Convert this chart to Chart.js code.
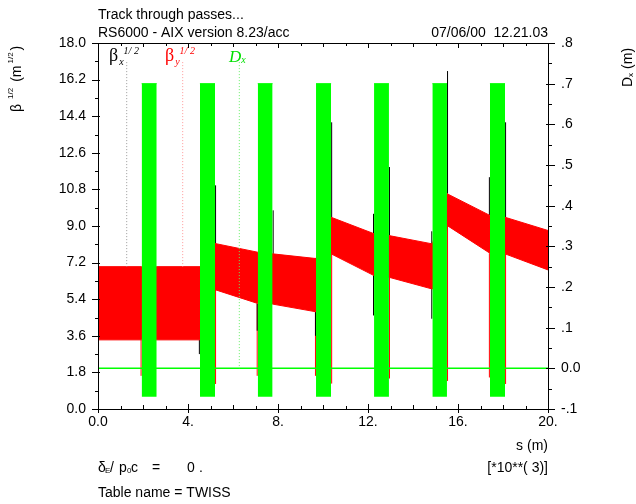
<!DOCTYPE html>
<html>
<head>
<meta charset="utf-8">
<title>Track through passes...</title>
<script src="https://cdn.jsdelivr.net/npm/chart.js@4.4.0/dist/chart.umd.min.js"></script>
<style>
  body { margin: 0; background: #fff; }
  #wrap { position: relative; width: 636px; height: 504px; }
</style>
</head>
<body>
<div id="wrap"><canvas id="twiss"></canvas></div>
<script>
const SANS = "'Liberation Sans', Arial, Helvetica, sans-serif";
const SERIF = "'Liberation Serif', 'Times New Roman', serif";

// axis ticks
const xTicks = [0, 4, 8, 12, 16, 20];
const xTickLabels = ['0.0', '4.', '8.', '12.', '16.', '20.'];
const betaTicks = [0, 1.8, 3.6, 5.4, 7.2, 9.0, 10.8, 12.6, 14.4, 16.2, 18.0];
const betaTickLabels = ['0.0', '1.8', '3.6', '5.4', '7.2', '9.0', '10.8', '12.6', '14.4', '16.2', '18.0'];
const dxTicks = [-0.1, 0, 0.1, 0.2, 0.3, 0.4, 0.5, 0.6, 0.7, 0.8];
const dxTickLabels = ['-.1', '0.0', '.1', '.2', '.3', '.4', '.5', '.6', '.7', '.8'];

// envelope of the sqrt(beta) oscillation (m^1/2)
const bandS      = [0, 1.94, 2.61, 4.53, 5.20, 7.10, 7.76, 9.69, 10.36, 12.27, 12.93, 14.86, 15.51, 17.42, 18.09, 20];
const bandTop    = [7.0, 7.0, 7.0, 7.0, 8.14, 7.71, 7.63, 7.40, 9.43, 8.62, 8.53, 8.12, 10.59, 9.52, 9.43, 8.78];
const bandBottom = [3.4, 3.4, 3.4, 3.4, 5.87, 5.19, 5.16, 4.78, 7.63, 6.56, 6.48, 5.90, 9.03, 7.66, 7.63, 6.84];

// sections where Dx swings (m)
const barStart = [1.94, 4.53, 7.10, 9.69, 12.27, 14.86, 17.42];
const barEnd   = [2.61, 5.20, 7.76, 10.36, 12.93, 15.51, 18.09];
const dxMax    = [0.70, 0.70, 0.70, 0.70, 0.70, 0.70, 0.70];
const dxMin    = [-0.07, -0.07, -0.07, -0.07, -0.07, -0.07, -0.07];

// beta_x excursions seen at section edges
const bxEdgeS  = [4.505, 5.225, 7.075, 7.785, 9.665, 10.385, 12.245, 12.955, 14.835, 15.535, 17.395, 18.115];
const bxEdgeLo = [2.7, 8.1, 3.85, 7.63, 3.6, 9.43, 4.6, 8.53, 4.44, 10.59, 9.52, 9.43];
const bxEdgeHi = [3.4, 11.0, 5.19, 9.77, 4.78, 14.1, 9.6, 11.9, 8.74, 16.62, 11.4, 14.1];

// beta_y excursions seen at section edges
const byEdgeS  = [1.915, 5.225, 7.075, 9.665, 10.385, 12.955, 15.535, 17.395, 18.115];
const byEdgeLo = [1.63, 1.23, 1.63, 1.63, 1.25, 1.50, 1.38, 1.55, 1.23];
const byEdgeHi = [3.4, 5.87, 5.19, 4.78, 7.63, 6.48, 9.03, 7.66, 7.63];

// curve label leaders
const leaderS   = [1.276, 3.764, 6.28];
const leaderTop = [17.06, 17.06, 0.753];
const leaderEnd = [7.0, 7.0, 0.0];

function pts(xs, ys) {
  return xs.map((x, i) => ({ x: x, y: ys[i] }));
}

function edgeLines(sv, lo, hi) {
  const out = [];
  sv.forEach((s, i) => {
    out.push({ x: s, y: lo[i] }, { x: s, y: hi[i] }, { x: s, y: null });
  });
  return out;
}

const datasets = [
  { label: 'band top', data: pts(bandS, bandTop), borderColor: '#ff0000', borderWidth: 1, yAxisID: 'y', order: 4, fill: false },
  { label: 'band bottom', data: pts(bandS, bandBottom), borderColor: '#ff0000', borderWidth: 1, backgroundColor: '#ff0000', yAxisID: 'y', order: 4, fill: '-1' },
  { label: 'by edges', data: edgeLines(byEdgeS, byEdgeLo, byEdgeHi), borderColor: '#ff0000', borderWidth: 1, yAxisID: 'y', order: 6 },
  { label: 'bx edges', data: edgeLines(bxEdgeS, bxEdgeLo, bxEdgeHi), borderColor: '#000000', borderWidth: 1, yAxisID: 'y', order: 5 },
  { label: 'Dx zero', data: [{ x: 0, y: 0 }, { x: 20, y: 0 }], borderColor: '#00ff00', borderWidth: 1.5, yAxisID: 'y2', order: 3 }
];

barStart.forEach((s, i) => {
  datasets.push({
    label: 'Dx ' + i,
    data: [{ x: s, y: dxMax[i] }, { x: barEnd[i], y: dxMax[i] }],
    borderColor: '#00ff00', borderWidth: 1, backgroundColor: '#00ff00',
    fill: { value: dxMin[i] }, yAxisID: 'y2', order: 2
  });
});

const leaderColors = ['#999999', '#ff9999', '#66ee66'];
leaderS.forEach((s, i) => {
  datasets.push({
    label: 'leader ' + i,
    data: [{ x: s, y: leaderTop[i] }, { x: s, y: leaderEnd[i] }],
    borderColor: leaderColors[i], borderWidth: 1, borderDash: [1, 2],
    yAxisID: i < 2 ? 'y' : 'y2', order: 1
  });
});

function drawRun(ctx, x, y, parts) {
  let pos = x;
  parts.forEach(p => {
    ctx.font = p[1];
    ctx.fillText(p[0], pos, y + (p[2] || 0));
    pos += ctx.measureText(p[0]).width + (p[3] || 0);
  });
}

function drawRotated(ctx, x, y, parts) {
  ctx.save();
  ctx.translate(x, y);
  ctx.rotate(-Math.PI / 2);
  drawRun(ctx, 0, 0, parts);
  ctx.restore();
}

const frameAndText = {
  id: 'frameAndText',
  afterDraw(chart) {
    const { ctx, chartArea: a, scales } = chart;
    ctx.save();
    ctx.strokeStyle = '#000';
    ctx.lineWidth = 1;
    ctx.strokeRect(a.left + 0.5, a.top + 0.5, a.right - a.left, a.bottom - a.top);

    ctx.beginPath();
    for (let i = 0; i <= 20; i++) {
      const x = Math.round(scales.x.getPixelForValue(i)) + 0.5;
      const len = i % 4 === 0 ? 5 : (i % 2 === 0 ? 4 : 3);
      ctx.moveTo(x, a.bottom + (i % 4 === 0 ? 4 : 0));
      ctx.lineTo(x, a.bottom - len);
      ctx.moveTo(x, a.top);
      ctx.lineTo(x, a.top + len);
    }
    for (let i = 0; i <= 20; i++) {
      const y = Math.round(scales.y.getPixelForValue(i * 0.9)) + 0.5;
      ctx.moveTo(a.left - (i % 2 === 0 ? 6 : 3), y);
      ctx.lineTo(a.left + (i % 2 === 0 ? 2 : 0), y);
    }
    for (let i = -2; i <= 16; i++) {
      const y = Math.round(scales.y2.getPixelForValue(i * 0.05)) + 0.5;
      ctx.moveTo(a.right - (i % 2 === 0 ? 2 : 0), y);
      ctx.lineTo(a.right + (i % 2 === 0 ? 7 : 4), y);
    }
    ctx.stroke();

    ctx.fillStyle = '#000';
    ctx.textBaseline = 'alphabetic';
    ctx.textAlign = 'left';
    ctx.font = '14px ' + SANS;
    ctx.fillText('Track through passes...', 98, 19);
    ctx.fillText('RS6000 - AIX version 8.23/acc', 98, 37);
    ctx.fillText('Table name = TWISS', 98, 497);
    ctx.textAlign = 'right';
    ctx.fillText('07/06/00  12.21.03', 548, 37);
    ctx.fillText('s (m)', 548, 450);
    ctx.fillText('[*10**( 3)]', 548, 472);
    ctx.textAlign = 'left';

    // dE/p0c = 0.
    const f = '14px ' + SANS, fs = '8px ' + SANS;
    ctx.fillText('\u03b4', 98, 472);
    ctx.font = fs; ctx.fillText('E', 105, 473);
    ctx.font = f;
    ctx.fillText('/', 110, 472);
    ctx.fillText('p', 119, 472);
    ctx.font = fs; ctx.fillText('0', 127, 473);
    ctx.font = f;
    ctx.fillText('c', 131, 472);
    ctx.fillText('=', 152, 472);
    ctx.fillText('0', 187, 472);
    ctx.fillText('.', 199, 472);

    // axis titles
    drawRotated(ctx, 21, 112, [
      ['\u03b2', '14px ' + SANS, 0, 5], ['1/2', '8px ' + SANS, -8, 6],
      ['(m', '14px ' + SANS, 0, 2], ['1/2', '8px ' + SANS, -8, 2], [')', '14px ' + SANS, 0]
    ]);
    drawRotated(ctx, 632, 87, [
      ['D', '14px ' + SANS, 0, 0], ['x', '8px ' + SANS, 1, 4], ['(m)', '14px ' + SANS, 0]
    ]);

    // curve labels
    ctx.fillStyle = '#000';
    drawRun(ctx, 109, 61, [['\u03b2', '18px ' + SERIF, 0, 1], ['x', 'italic 10px ' + SERIF, 4, 0], ['1/ 2', 'italic 10px ' + SERIF, -7]]);
    ctx.fillStyle = '#ff0000';
    drawRun(ctx, 165, 61, [['\u03b2', '18px ' + SERIF, 0, 1], ['y', 'italic 10px ' + SERIF, 4, 0], ['1/ 2', 'italic 10px ' + SERIF, -7]]);
    ctx.fillStyle = '#00e000';
    drawRun(ctx, 229, 62, [['D', 'italic 17px ' + SERIF, 0, 0], ['x', 'italic 10px ' + SERIF, 1]]);
    ctx.restore();
  }
};

const tickFont = { family: SANS, size: 14 };

new Chart(document.getElementById('twiss'), {
  type: 'line',
  data: { datasets: datasets },
  options: {
    responsive: true,
    maintainAspectRatio: false,
    animation: false,
    layout: { padding: { top: 43, left: 0, right: 0, bottom: 0 } },
    elements: { point: { radius: 0 }, line: { tension: 0 } },
    plugins: { legend: { display: false }, tooltip: { enabled: false } },
    scales: {
      x: {
        type: 'linear', position: 'bottom', min: 0, max: 20,
        grid: { display: false, drawTicks: false }, border: { display: false },
        afterBuildTicks: s => { s.ticks = xTicks.map(v => ({ value: v })); },
        afterFit: s => { s.height = 95; },
        ticks: { font: tickFont, color: '#000', padding: 5, maxRotation: 0, autoSkip: false,
          callback: (v, i) => xTickLabels[i] }
      },
      y: {
        type: 'linear', position: 'left', min: 0, max: 18,
        grid: { display: false, drawTicks: false }, border: { display: false },
        afterBuildTicks: s => { s.ticks = betaTicks.map(v => ({ value: v })); },
        afterFit: s => { s.width = 98; },
        ticks: { font: tickFont, color: '#000', padding: 12, autoSkip: false,
          callback: (v, i) => betaTickLabels[i] }
      },
      y2: {
        type: 'linear', position: 'right', min: -0.1, max: 0.8,
        grid: { display: false, drawTicks: false }, border: { display: false },
        afterBuildTicks: s => { s.ticks = dxTicks.map(v => ({ value: v })); },
        afterFit: s => { s.width = 88; },
        ticks: { font: tickFont, color: '#000', padding: 13, autoSkip: false,
          callback: (v, i) => dxTickLabels[i] }
      }
    }
  },
  plugins: [frameAndText]
});
</script>
</body>
</html>
